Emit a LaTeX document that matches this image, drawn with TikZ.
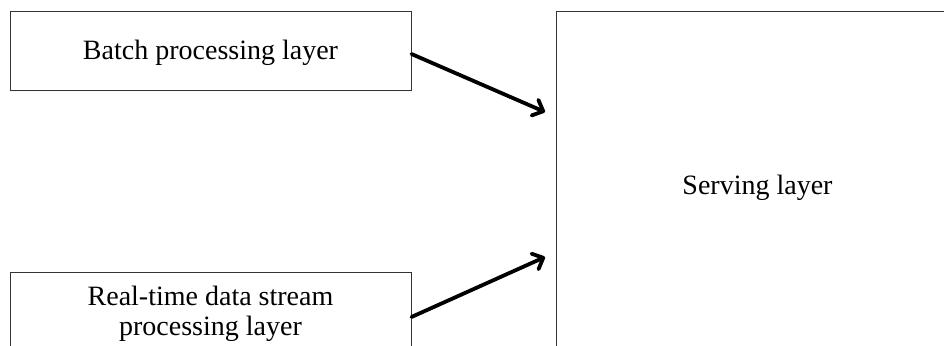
\documentclass[tikz,border=0pt]{standalone}
\usepackage{fontspec}
\setmainfont{Liberation Serif}
\usetikzlibrary{arrows.meta,shadows}
\begin{document}
\begin{tikzpicture}[x=1pt,y=-1pt,
  layerbox/.style={draw=black!80, line width=1pt, fill=white, rectangle, inner sep=0pt,
    align=center, font=\fontsize{28}{30}\selectfont,
    drop shadow={shadow xshift=1pt, shadow yshift=-2pt, opacity=0.06}},
  flow/.style={line width=3.8pt, line cap=round, -{Straight Barb[length=9pt,width=17pt,round]}}]
\useasboundingbox (0,0) rectangle (944,345);
\clip (0,0) rectangle (944,345);
\fill[white] (0,0) rectangle (944,345);
\node[layerbox, minimum width=401pt, minimum height=78pt, text depth=2pt] (batch) at (210.5,51) {Batch processing layer};
\node[layerbox, minimum width=401pt, minimum height=90pt] (rt) at (210.5,317) {Real-time data stream\\processing layer\\[-17pt]\mbox{}};
\node[layerbox, minimum width=403pt, minimum height=352pt] (serve) at (757.5,188) {Serving layer};
\coordinate (tip1) at (545,112);
\coordinate (tip2) at (545,257);
\draw[flow] ([yshift=-3pt]batch.east) -- (tip1);
\draw[flow] (rt.east) -- (tip2);
\end{tikzpicture}
\end{document}
